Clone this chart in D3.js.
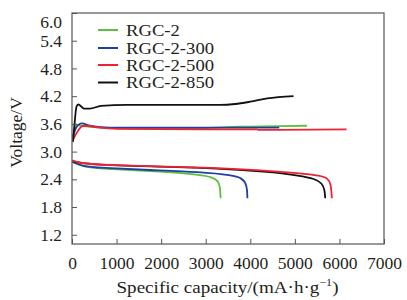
<!DOCTYPE html>
<html>
<head>
<meta charset="utf-8">
<script src="https://cdn.jsdelivr.net/npm/d3@7"></script>
<style>
  body { margin: 0; background: #fff; }
  text { font-family: "Liberation Serif", "Times New Roman", serif; fill: #231f20; }
</style>
</head>
<body>
<div id="chart"></div>
<script>
// charge / discharge profiles: [capacity mAh/g, voltage V]
var seriesNames = ["RGC-2", "RGC-2-300", "RGC-2-500", "RGC-2-850"];
var seriesColors = ["#5cc03c", "#1d3fa6", "#ee2233", "#111111"];

var chargeRGC2 = [[20,3.29],[55,3.45],[90,3.59],[180,3.56],[630,3.52],[1530,3.50],[2870,3.51],[3770,3.54],[4670,3.55],[5270,3.56]];
var chargeRGC2_300 = [[20,3.32],[90,3.51],[220,3.61],[400,3.56],[850,3.52],[2870,3.52],[4650,3.52]];
var chargeRGC2_500 = [[20,3.25],[90,3.38],[250,3.56],[630,3.52],[1080,3.49],[2870,3.48],[4150,3.48],[4170,3.47],[6160,3.48]];
var chargeRGC2_850 = [[20,3.21],[55,3.58],[100,3.97],[140,4.02],[180,4.00],[270,3.93],[400,3.93],[650,3.99],[1230,4.01],[3320,4.01],[3660,4.03],[4000,4.08],[4380,4.15],[4970,4.20]];

var dischargeRGC2 = [[10,2.78],[180,2.71],[360,2.65],[1080,2.61],[1970,2.57],[2900,2.50],[3160,2.44],[3280,2.36],[3320,2.26],[3335,1.99]];
var dischargeRGC2_300 = [[10,2.78],[220,2.68],[630,2.65],[1750,2.60],[2870,2.56],[3610,2.49],[3815,2.42],[3900,2.32],[3930,2.17],[3935,1.99]];
var dischargeRGC2_500 = [[5,2.81],[180,2.75],[630,2.71],[2870,2.66],[4220,2.60],[5120,2.53],[5570,2.48],[5745,2.42],[5810,2.30],[5830,1.99]];
var dischargeRGC2_850 = [[10,2.79],[400,2.72],[1750,2.68],[3320,2.64],[4440,2.56],[5120,2.48],[5450,2.41],[5610,2.32],[5670,2.17],[5680,1.99]];

var xTicks = [0, 1000, 2000, 3000, 4000, 5000, 6000, 7000];
var yTicks = [1.2, 1.8, 2.4, 3.0, 3.6, 4.2, 4.8, 5.4, 6.0];

var curves = [
  {i: 0, pts: chargeRGC2}, {i: 1, pts: chargeRGC2_300}, {i: 2, pts: chargeRGC2_500}, {i: 3, pts: chargeRGC2_850},
  {i: 0, pts: dischargeRGC2}, {i: 1, pts: dischargeRGC2_300}, {i: 3, pts: dischargeRGC2_850}, {i: 2, pts: dischargeRGC2_500}
];

var width = 407, height = 300;
var plotLeft = 72, plotRight = 384, plotTop = 13, plotBottom = 244;

var svg = d3.select("#chart").append("svg")
    .attr("width", width)
    .attr("height", height);

var x = d3.scaleLinear().domain([0, 7000]).range([plotLeft, plotRight]);
var y = d3.scaleLinear().domain([1.0, 6.0]).range([plotBottom, plotTop]);

var line = d3.line()
    .x(function(d) { return x(d[0]); })
    .y(function(d) { return y(d[1]); })
    .curve(d3.curveMonotoneX);
var dropLine = d3.line()
    .x(function(d) { return x(d[0]); })
    .y(function(d) { return y(d[1]); })
    .curve(d3.curveBasis);

// curves
svg.append("g").selectAll("path")
  .data(curves)
  .join("path")
    .attr("d", function(d) { return d.pts[d.pts.length-1][1] < 2.1 ? dropLine(d.pts) : line(d.pts); })
    .attr("fill", "none")
    .attr("stroke", function(d) { return seriesColors[d.i]; })
    .attr("stroke-width", 1.8);

// axes with inward ticks
var xAxis = svg.append("g")
    .attr("transform", "translate(0," + plotBottom + ")")
    .call(d3.axisBottom(x).tickValues(xTicks).tickFormat(d3.format("d")).tickSizeInner(-5).tickSizeOuter(0).tickPadding(9));
var yAxis = svg.append("g")
    .attr("transform", "translate(" + plotLeft + ",0)")
    .call(d3.axisLeft(y).tickValues(yTicks).tickFormat(d3.format(".1f")).tickSizeInner(-5).tickSizeOuter(0).tickPadding(10));

[xAxis, yAxis].forEach(function(a) {
  a.select(".domain").remove();
  a.selectAll("line").attr("stroke", "#555");
  a.selectAll("text").attr("font-size", 17.5).attr("fill", "#231f20")
    .style("font-family", "'Liberation Serif', serif");
});
xAxis.selectAll("text").attr("dy", "0.93em");
yAxis.selectAll("text").filter(function(d) { return d === 6.0; }).attr("dy", "0.8em");

// frame
svg.append("rect")
    .attr("x", plotLeft).attr("y", plotTop)
    .attr("width", plotRight - plotLeft).attr("height", plotBottom - plotTop)
    .attr("fill", "none").attr("stroke", "#555").attr("stroke-width", 1.2);

// axis titles
var xt = svg.append("text")
    .attr("x", 227.5).attr("y", 293)
    .attr("text-anchor", "middle")
    .attr("font-size", 17.5);
xt.append("tspan").text("Specific capacity/(mA\u00b7h\u00b7g");
xt.append("tspan").attr("font-size", 11).attr("dy", -7).text("\u22121");
xt.append("tspan").attr("dy", 7).text(")");
xt.attr("textLength", 222).attr("lengthAdjust", "spacingAndGlyphs");

svg.append("text")
    .attr("transform", "translate(22,132.5) rotate(-90)")
    .attr("text-anchor", "middle")
    .attr("font-size", 17.5)
    .text("Voltage/V");

// legend
var legendY = [30, 48, 65, 82.5];
var lg = svg.append("g").selectAll("g")
  .data(seriesNames)
  .join("g")
    .attr("transform", function(d, i) { return "translate(98," + legendY[i] + ")"; });
lg.append("line")
    .attr("x1", 0).attr("x2", 20)
    .attr("stroke", function(d, i) { return seriesColors[i]; })
    .attr("stroke-width", 2);
lg.append("text")
    .attr("x", 28).attr("dy", "0.34em")
    .attr("font-size", 16.5)
    .text(function(d) { return d; })
    .each(function() {
      var w = this.getComputedTextLength();
      d3.select(this).attr("textLength", w * 1.13).attr("lengthAdjust", "spacingAndGlyphs");
    });
</script>
</body>
</html>
